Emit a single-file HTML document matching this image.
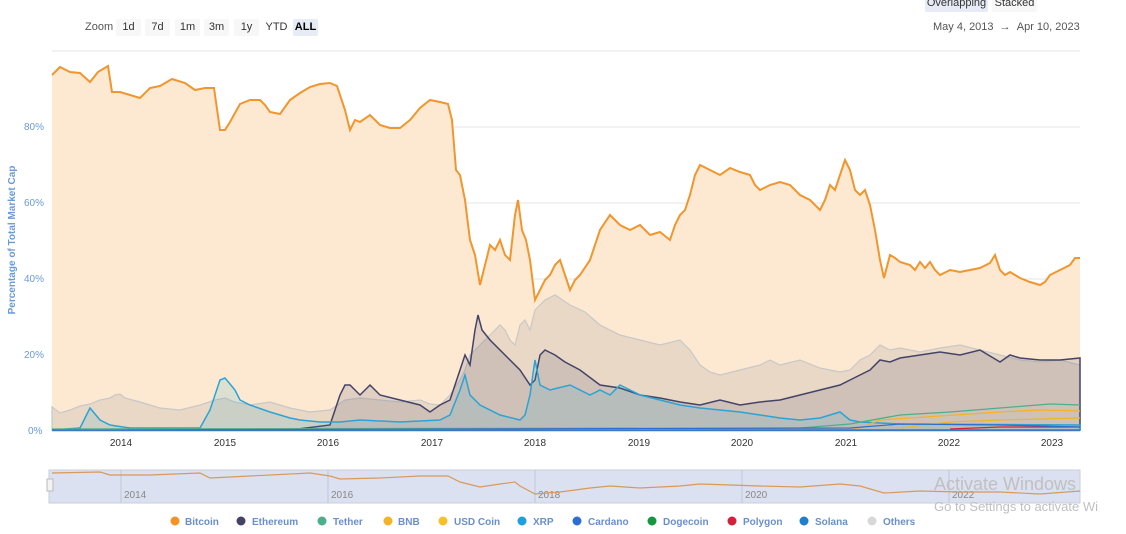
<!DOCTYPE html>
<html><head><meta charset="utf-8"><style>
body{margin:0;width:1126px;height:534px;background:#fff;font-family:"Liberation Sans",sans-serif;overflow:hidden;position:relative}
.t{position:absolute;font-size:11px;color:#333}
.b{position:absolute;top:19px;height:17px;line-height:17px;font-size:11px;color:#333;background:#f7f7f7;text-align:center;border-radius:2px}
</style></head><body>
<div class="t" style="left:85px;top:21px;color:#555">Zoom</div>
<div class="b" style="left:116px;width:25px">1d</div>
<div class="b" style="left:145px;width:25px">7d</div>
<div class="b" style="left:175px;width:25px">1m</div>
<div class="b" style="left:204px;width:25px">3m</div>
<div class="b" style="left:234px;width:25px">1y</div>
<div class="b" style="left:264px;width:25px;background:#fff">YTD</div>
<div class="b" style="left:293px;width:25px;background:#e6ebf5;font-weight:bold;color:#000">ALL</div>
<div class="b" style="left:925px;top:-5px;width:63px;background:#e6ebf5">Overlapping</div>
<div class="b" style="left:992px;top:-5px;width:45px">Stacked</div>
<div class="t" style="left:933px;top:21px;color:#555">May 4, 2013 &nbsp;→ &nbsp;Apr 10, 2023</div>
<svg width="1126" height="534" style="position:absolute;left:0;top:0" font-family="Liberation Sans" font-size="10">
<g stroke="#e6e6e6"><line x1="52" x2="1080" y1="51" y2="51"/><line x1="52" x2="1080" y1="127" y2="127"/><line x1="52" x2="1080" y1="203" y2="203"/><line x1="52" x2="1080" y1="279" y2="279"/><line x1="52" x2="1080" y1="355" y2="355"/></g>
<g fill="#6a9ad8"><text x="24" y="130">80%</text><text x="24" y="206">60%</text><text x="24" y="282">40%</text><text x="24" y="358">20%</text><text x="28" y="434">0%</text></g>
<text transform="translate(15,240) rotate(-90)" text-anchor="middle" fill="#6a9ad8" font-size="10" font-weight="bold">Percentage of Total Market Cap</text>
<polygon fill="#fde9d2" points="52,430 52,75 60,67 70,72 80,73 90,82 98,72 108,66 112,92 120,92 130,95 140,98 150,88 160,86 172,79 185,83 195,90 205,88 214,88 220,130 225,130 230,122 240,104 250,100 260,100 265,105 270,112 280,114 290,100 300,93 310,87 320,84 330,83 337,86 345,110 350,130 355,120 360,122 370,115 380,125 390,128 400,128 410,120 420,108 430,100 440,102 448,104 452,120 456,170 460,175 465,200 470,240 475,255 480,285 485,265 490,245 495,250 500,240 505,255 510,260 515,215 518,200 522,230 526,240 530,260 535,300 540,290 545,280 550,275 555,265 560,260 565,275 570,290 575,280 580,275 590,260 600,230 610,215 620,225 630,230 640,225 650,235 660,232 670,240 675,225 680,215 685,210 690,195 695,175 700,165 710,170 720,175 730,168 740,172 750,175 755,185 760,190 770,185 780,182 790,185 800,195 810,200 820,210 825,200 830,185 835,190 840,175 845,160 850,170 855,190 860,195 865,190 870,205 875,230 880,260 884,278 890,255 895,258 900,262 910,265 915,270 920,262 925,268 930,262 935,270 940,275 950,270 960,272 970,270 980,268 990,263 995,255 1000,270 1005,275 1010,272 1020,278 1030,282 1040,285 1045,282 1050,275 1060,270 1070,265 1075,258 1080,258 1080,430"/>
<polygon fill="rgba(140,140,140,0.18)" stroke="#c8c8c8" stroke-width="1.2" points="52,430 52,407 60,413 70,410 80,406 90,404 100,400 110,398 115,395 120,394 125,398 140,402 160,408 180,410 200,405 215,400 225,398 235,402 250,405 270,402 290,408 310,412 330,410 345,400 360,398 380,400 400,402 420,400 430,404 440,405 450,395 460,380 465,370 470,355 480,345 490,335 495,330 500,325 505,330 510,340 515,345 520,325 525,320 530,330 535,310 540,305 545,300 555,295 570,305 585,312 600,325 620,335 640,340 660,345 680,340 690,350 700,365 710,372 720,375 740,370 760,365 770,360 780,365 800,360 820,368 840,372 850,370 860,360 870,355 880,345 890,350 900,348 920,352 940,348 960,345 980,350 1000,355 1020,360 1040,362 1060,360 1080,365 1080,430"/>
<polygon fill="rgba(70,70,110,0.15)" stroke="#434368" stroke-width="1.5" points="290,430 330,425 340,395 345,385 350,385 360,395 370,385 380,395 400,400 420,405 430,412 440,405 450,400 460,370 465,355 470,365 475,330 478,315 482,330 490,340 500,350 510,360 520,370 530,385 535,380 540,355 545,350 555,355 565,362 580,370 600,385 620,388 640,395 660,398 680,402 700,405 720,400 740,405 760,402 780,400 800,395 820,390 840,385 850,380 860,375 870,370 880,360 890,362 900,358 920,355 940,352 960,355 980,350 1000,362 1010,355 1020,358 1040,360 1060,360 1080,358 1080,430"/>
<polygon fill="rgba(40,170,210,0.15)" stroke="#2aa3d6" stroke-width="1.5" points="52,430 80,428 90,408 100,420 110,425 130,428 200,428 210,410 220,380 225,378 235,390 240,400 250,405 270,412 290,418 300,420 320,422 340,422 360,420 400,422 440,420 450,415 460,390 465,375 470,395 480,405 500,415 520,420 525,415 530,395 535,360 540,385 550,390 570,385 590,395 600,390 610,395 620,385 630,390 640,395 660,400 680,405 700,408 720,410 740,412 760,415 780,418 800,420 820,418 840,412 850,420 860,422 900,424 1080,425 1080,430"/>
<polyline fill="none" stroke="#4caf8a" stroke-width="1.3" points="52,429 800,428 850,424 900,415 950,412 1000,408 1050,404 1080,405"/>
<polyline fill="none" stroke="#f3b329" stroke-width="1.3" points="52,430 860,428 880,420 940,416 1000,412 1040,410 1080,411"/>
<polyline fill="none" stroke="#e8b82a" stroke-width="1.2" points="900,428 950,422 1000,420 1080,418"/>
<polyline fill="none" stroke="#d4213a" stroke-width="1.2" points="950,429 1000,427 1080,427"/>
<polyline fill="none" stroke="#2d6fd0" stroke-width="1.2" points="52,430 850,428 900,424 1000,425 1080,427"/>
<polyline fill="none" stroke="#f0962e" stroke-width="2" points="52,75 60,67 70,72 80,73 90,82 98,72 108,66 112,92 120,92 130,95 140,98 150,88 160,86 172,79 185,83 195,90 205,88 214,88 220,130 225,130 230,122 240,104 250,100 260,100 265,105 270,112 280,114 290,100 300,93 310,87 320,84 330,83 337,86 345,110 350,130 355,120 360,122 370,115 380,125 390,128 400,128 410,120 420,108 430,100 440,102 448,104 452,120 456,170 460,175 465,200 470,240 475,255 480,285 485,265 490,245 495,250 500,240 505,255 510,260 515,215 518,200 522,230 526,240 530,260 535,300 540,290 545,280 550,275 555,265 560,260 565,275 570,290 575,280 580,275 590,260 600,230 610,215 620,225 630,230 640,225 650,235 660,232 670,240 675,225 680,215 685,210 690,195 695,175 700,165 710,170 720,175 730,168 740,172 750,175 755,185 760,190 770,185 780,182 790,185 800,195 810,200 820,210 825,200 830,185 835,190 840,175 845,160 850,170 855,190 860,195 865,190 870,205 875,230 880,260 884,278 890,255 895,258 900,262 910,265 915,270 920,262 925,268 930,262 935,270 940,275 950,270 960,272 970,270 980,268 990,263 995,255 1000,270 1005,275 1010,272 1020,278 1030,282 1040,285 1045,282 1050,275 1060,270 1070,265 1075,258 1080,258"/>
<line x1="52" x2="1080" y1="430.5" y2="430.5" stroke="#3c78c8" stroke-width="1.5"/>
<g fill="#333" text-anchor="middle"><text x="121" y="446">2014</text><text x="225" y="446">2015</text><text x="328" y="446">2016</text><text x="432" y="446">2017</text><text x="535" y="446">2018</text><text x="639" y="446">2019</text><text x="742" y="446">2020</text><text x="846" y="446">2021</text><text x="949" y="446">2022</text><text x="1052" y="446">2023</text></g>
<rect x="49" y="470" width="1031" height="33" fill="#dbe1f0" stroke="#c8cedc"/>
<g stroke="#c0c6d6"><line x1="121" x2="121" y1="470" y2="503"/><line x1="328" x2="328" y1="470" y2="503"/><line x1="535" x2="535" y1="470" y2="503"/><line x1="742" x2="742" y1="470" y2="503"/><line x1="949" x2="949" y1="470" y2="503"/></g>
<g fill="#888"><text x="124" y="498">2014</text><text x="331" y="498">2016</text><text x="538" y="498">2018</text><text x="745" y="498">2020</text><text x="952" y="498">2022</text></g>
<rect x="47" y="479" width="6" height="12" fill="#f2f2f2" stroke="#bbb"/>
<polyline fill="none" stroke="#d89a5a" stroke-width="1.2" points="52,473 100,472 110,475 150,475 200,473 210,478 250,476 310,473 330,476 340,479 380,478 420,476 448,476 460,482 480,487 500,484 515,482 520,486 535,494 560,492 590,488 610,486 640,488 680,486 700,484 730,485 760,486 800,487 840,484 860,486 884,493 920,491 960,492 1000,492 1040,494 1080,491"/>
<g font-size="10" font-weight="bold" fill="#6a8fcc">
<circle cx="175" cy="521" r="4.5" fill="#f59222"/><text x="185" y="525">Bitcoin</text>
<circle cx="241" cy="521" r="4.5" fill="#434368"/><text x="252" y="525">Ethereum</text>
<circle cx="322" cy="521" r="4.5" fill="#4caf8a"/><text x="333" y="525">Tether</text>
<circle cx="388" cy="521" r="4.5" fill="#f3b329"/><text x="398" y="525">BNB</text>
<circle cx="443" cy="521" r="4.5" fill="#f7bf2a"/><text x="454" y="525">USD Coin</text>
<circle cx="522" cy="521" r="4.5" fill="#1ea0e0"/><text x="533" y="525">XRP</text>
<circle cx="577" cy="521" r="4.5" fill="#2d6fd0"/><text x="588" y="525">Cardano</text>
<circle cx="652" cy="521" r="4.5" fill="#13973f"/><text x="663" y="525">Dogecoin</text>
<circle cx="732" cy="521" r="4.5" fill="#d4213a"/><text x="743" y="525">Polygon</text>
<circle cx="804" cy="521" r="4.5" fill="#1c7fd0"/><text x="815" y="525">Solana</text>
<circle cx="872" cy="521" r="4.5" fill="#d8d8d8"/><text x="883" y="525">Others</text>
</g>
<text x="934" y="490" font-size="18" fill="#c0c0c0">Activate Windows</text>
<text x="934" y="511" font-size="13" fill="#c0c0c0">Go to Settings to activate Wi</text>
</svg>
</body></html>
